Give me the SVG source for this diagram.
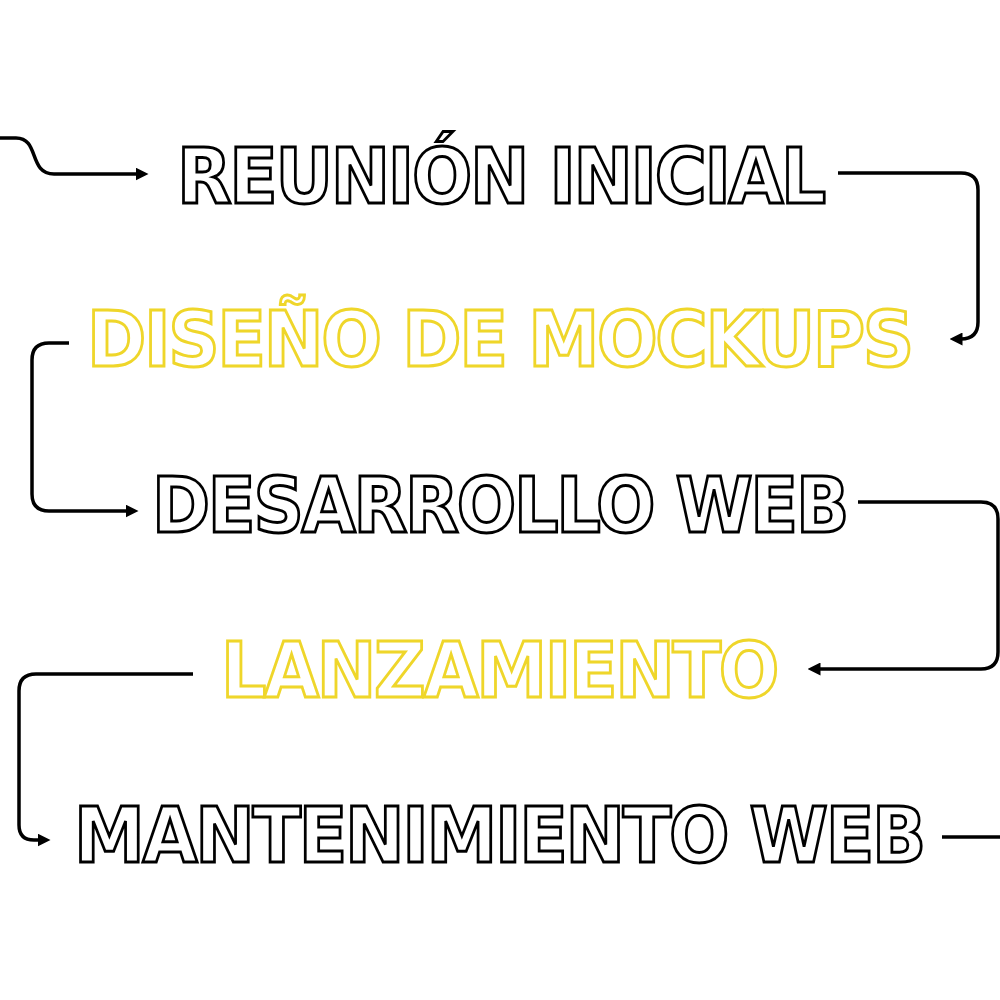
<svg xmlns="http://www.w3.org/2000/svg" width="1000" height="1000" viewBox="0 0 1000 1000">
  <defs>
    <marker id="arrow" viewBox="0 0 10 10" refX="5" refY="5" markerWidth="13" markerHeight="13" markerUnits="userSpaceOnUse" orient="auto">
      <path d="M0,0 L10,5 L0,10 z" fill="#000"/>
    </marker>
    <style>
      .step { font-family: "DejaVu Sans", "Liberation Sans", sans-serif; font-weight: 700; font-size: 77px; fill: #fff; stroke-width: 3; stroke-linejoin: miter; letter-spacing: -2.5px; }
      .dark { stroke: #000; }
      .yellow { stroke: #efd62a; }
      .conn { fill: none; stroke: #000; stroke-width: 3.5; stroke-linecap: butt; }
    </style>
  </defs>
  <rect width="1000" height="1000" fill="#fff"/>

  <g id="connectors">
    <path class="conn" d="M0,138 H16 C40,138 28,174 54,174 H142" marker-end="url(#arrow)"/>
    <path class="conn" d="M838,173 H961 Q978,173 978,190 V322 Q978,339 961,339 H956" marker-end="url(#arrow)"/>
    <path class="conn" d="M69,343 H49 Q32,343 32,360 V494 Q32,511 49,511 H132" marker-end="url(#arrow)"/>
    <path class="conn" d="M858,502 H981 Q998,502 998,519 V652 Q998,669 981,669 H814" marker-end="url(#arrow)"/>
    <path class="conn" d="M193,674 H36 Q19,674 19,691 V825 Q19,840 34,840 H44" marker-end="url(#arrow)"/>
    <path class="conn" d="M942,837 H1000"/>
  </g>

  <g id="node-reunion">
    <text class="step dark" x="177" y="203" textLength="647" lengthAdjust="spacingAndGlyphs">REUNIÓN INICIAL</text>
  </g>
  <g id="node-diseno">
    <text class="step yellow" x="87" y="366" textLength="825" lengthAdjust="spacingAndGlyphs">DISEÑO DE MOCKUPS</text>
  </g>
  <g id="node-desarrollo">
    <text class="step dark" x="152" y="532" textLength="695" lengthAdjust="spacingAndGlyphs">DESARROLLO WEB</text>
  </g>
  <g id="node-lanzamiento">
    <text class="step yellow" x="221" y="697" textLength="556" lengthAdjust="spacingAndGlyphs">LANZAMIENTO</text>
  </g>
  <g id="node-mantenimiento">
    <text class="step dark" x="74" y="862" textLength="850" lengthAdjust="spacingAndGlyphs">MANTENIMIENTO WEB</text>
  </g>
</svg>
